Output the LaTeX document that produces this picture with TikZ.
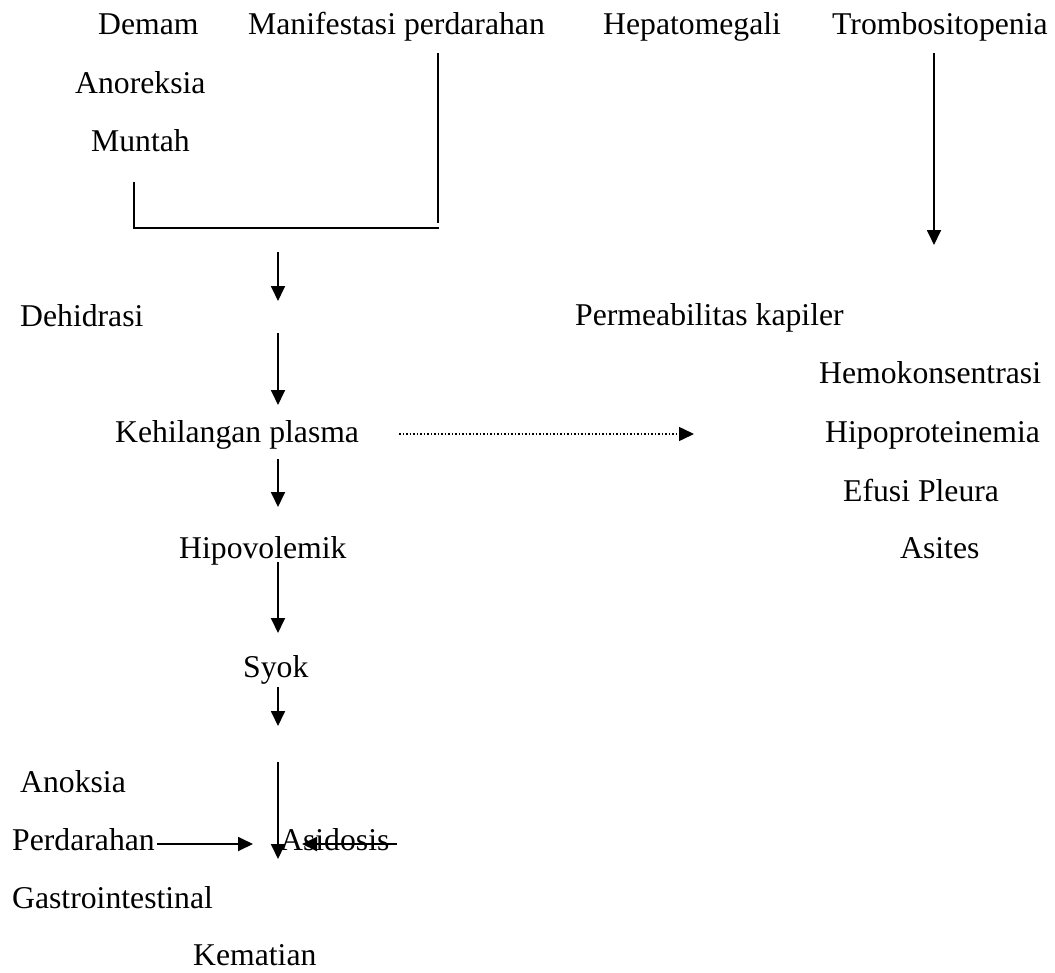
\documentclass[tikz,border=0pt]{standalone}
\usepackage{fontspec}
\setmainfont{Liberation Serif}
\usetikzlibrary{arrows.meta}
\begin{document}
\begin{tikzpicture}[x=1pt,y=-1pt,
  lbl/.style={anchor=base west,inner sep=0pt,font=\fontsize{31.7}{38}\selectfont},
  ln/.style={line width=1.8pt},
  arr/.style={line width=1.8pt,-{Triangle[length=15pt,width=14pt]}},
  dotarr/.style={line width=1.5pt,dash pattern=on 1.5pt off 2pt,-{Triangle[length=15pt,width=14pt]}}]
\useasboundingbox (0,0) rectangle (1055,972);
% labels
\node[lbl] (demam) at (98,34) {Demam};
\node[lbl] (manif) at (248,34) {Manifestasi perdarahan};
\node[lbl] (hepa) at (603,34) {Hepatomegali};
\node[lbl] (trombo) at (832,34) {Trombositopenia};
\node[lbl] (anor) at (75,93) {Anoreksia};
\node[lbl] (muntah) at (91,151) {Muntah};
\node[lbl] (dehid) at (20,326) {Dehidrasi};
\node[lbl] (perm) at (575,325) {Permeabilitas kapiler};
\node[lbl] (hemo) at (819,383) {Hemokonsentrasi};
\node[lbl] (kehil) at (115,442) {Kehilangan plasma};
\node[lbl] (hipopro) at (825,442) {Hipoproteinemia};
\node[lbl] (efusi) at (843,501) {Efusi Pleura};
\node[lbl] (hipovol) at (179,558) {Hipovolemik};
\node[lbl] (asites) at (900,558) {Asites};
\node[lbl] (syok) at (243,677) {Syok};
\node[lbl] (anoksia) at (20,792) {Anoksia};
\node[lbl] (perd) at (12,850) {Perdarahan};
\node[lbl] (asid) at (280,850) {Asidosis};
\node[lbl] (gastro) at (12,908) {Gastrointestinal};
\node[lbl] (kemat) at (193,965) {Kematian};
% coordinates
\coordinate (bl1) at (134,182);
\coordinate (bl2) at (134,229);
\coordinate (bh1) at (133,228);
\coordinate (bh2) at (439,228);
\coordinate (br1) at (438,53);
\coordinate (br2) at (438,223);
\coordinate (a1s) at (278,252); \coordinate (a1e) at (278,301);
\coordinate (a2s) at (278,333); \coordinate (a2e) at (278,405);
\coordinate (a3s) at (278,459); \coordinate (a3e) at (278,507);
\coordinate (a4s) at (278,562); \coordinate (a4e) at (278,633);
\coordinate (a5s) at (278,687); \coordinate (a5e) at (278,726);
\coordinate (a6s) at (278,762); \coordinate (a6e) at (278,859);
\coordinate (ts) at (934,53); \coordinate (te) at (934,245);
\coordinate (ds) at (399,434); \coordinate (de) at (694,434);
\coordinate (ps) at (157,844); \coordinate (pe) at (253,844);
\coordinate (qs) at (397,844); \coordinate (qe) at (302,844);
% connectors
\draw[ln] (bl1) -- (bl2);
\draw[ln] (bh1) -- (bh2);
\draw[ln] (br1) -- (br2);
\draw[arr] (a1s) -- (a1e);
\draw[arr] (a2s) -- (a2e);
\draw[arr] (a3s) -- (a3e);
\draw[arr] (a4s) -- (a4e);
\draw[arr] (a5s) -- (a5e);
\draw[arr] (a6s) -- (a6e);
\draw[arr] (ts) -- (te);
\draw[dotarr] (ds) -- (de);
\draw[arr] (ps) -- (pe);
\draw[arr] (qs) -- (qe);
\end{tikzpicture}
\end{document}
